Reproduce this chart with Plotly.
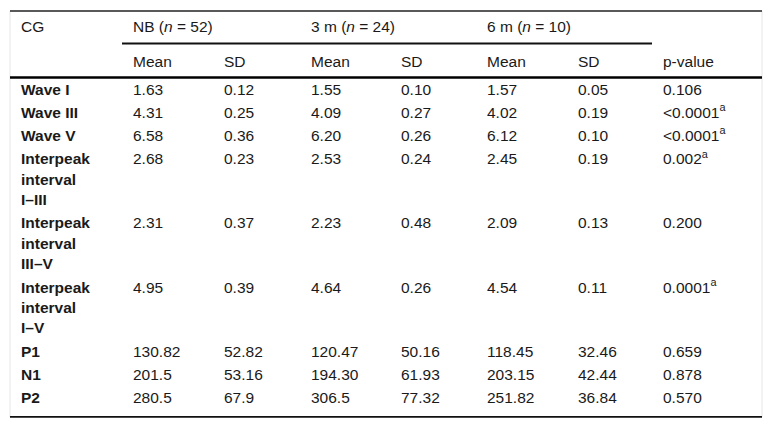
import plotly.graph_objects as go

# -------------------------------
# Dados da tabela
# -------------------------------
corner_label = "CG"
group_labels = ["NB (<i>n</i> = 52)", "3 m (<i>n</i> = 24)", "6 m (<i>n</i> = 10)"]
stat_labels = ["Mean", "SD"]
pvalue_label = "p-value"

row_labels = [
    "Wave I",
    "Wave III",
    "Wave V",
    "Interpeak<br>interval<br>I\u2013III",
    "Interpeak<br>interval<br>III\u2013V",
    "Interpeak<br>interval<br>I\u2013V",
    "P1",
    "N1",
    "P2",
]

nb_mean = ["1.63", "4.31", "6.58", "2.68", "2.31", "4.95", "130.82", "201.5", "280.5"]
nb_sd = ["0.12", "0.25", "0.36", "0.23", "0.37", "0.39", "52.82", "53.16", "67.9"]
m3_mean = ["1.55", "4.09", "6.20", "2.53", "2.23", "4.64", "120.47", "194.30", "306.5"]
m3_sd = ["0.10", "0.27", "0.26", "0.24", "0.48", "0.26", "50.16", "61.93", "77.32"]
m6_mean = ["1.57", "4.02", "6.12", "2.45", "2.09", "4.54", "118.45", "203.15", "251.82"]
m6_sd = ["0.05", "0.19", "0.10", "0.19", "0.13", "0.11", "32.46", "42.44", "36.84"]
p_values = ["0.106", "<0.0001", "<0.0001", "0.002", "0.200", "0.0001", "0.659", "0.878", "0.570"]
p_notes = ["", "a", "a", "a", "", "a", "", "", ""]

# -------------------------------
# Grade da tabela (em pixels da janela 773x428)
# -------------------------------
W, H = 773, 428
OFF = 8  # margem padrão do <body> da página
col_left = [10, 122, 213, 300, 390, 476, 567, 652, 762]
pad_x = 11
line_h = 20.45
pad_y = 1.4
y_top = 11
y_head1 = 28.5
y_group_rule = 43.5
y_head2 = 63
y_body = 77.5
text_dy = 1.5  # ajuste fino do centro vertical do texto

FONT = "Liberation Sans, Arial, sans-serif"
FSIZE = 15.5
TXT = "#1a1a1a"

text_x = [c + pad_x for c in col_left[:-1]]

# posições verticais de cada linha de texto
label_x, label_y, label_t = [], [], []
val_x, val_y, val_t = [], [], []
columns = [nb_mean, nb_sd, m3_mean, m3_sd, m6_mean, m6_sd]
y = y_body
for i, lab in enumerate(row_labels):
    parts = lab.split("<br>")
    first = y + pad_y + line_h / 2 + text_dy
    for k, part in enumerate(parts):
        label_x.append(text_x[0])
        label_y.append(first + k * line_h)
        label_t.append("<b>" + part + "</b>")
    for j, col in enumerate(columns):
        val_x.append(text_x[j + 1])
        val_y.append(first)
        val_t.append(col[i])
    p = p_values[i].replace("<", "&lt;")
    if p_notes[i]:
        p += "<sup>" + p_notes[i] + "</sup>"
    val_x.append(text_x[7])
    val_y.append(first)
    val_t.append(p)
    y += len(parts) * line_h + 2 * pad_y
y_bottom = y + 7.5

head_x = [text_x[0]] + [text_x[1 + 2 * g] for g in range(3)]
head_y = [y_head1] * 4
head_t = [corner_label] + group_labels
for g in range(3):
    for s, st in enumerate(stat_labels):
        head_x.append(text_x[1 + 2 * g + s])
        head_y.append(y_head2)
        head_t.append(st)
head_x.append(text_x[7])
head_y.append(y_head2)
head_t.append(pvalue_label)

fig = go.Figure()
for xs, ys, ts in [(head_x, head_y, head_t), (label_x, label_y, label_t), (val_x, val_y, val_t)]:
    fig.add_trace(go.Scatter(
        x=xs, y=ys, text=ts,
        mode="text",
        textposition="middle right",
        textfont=dict(family=FONT, size=FSIZE, color=TXT),
        hoverinfo="skip",
        showlegend=False,
    ))

# linhas laterais claras
for xv in (col_left[0], col_left[-1]):
    fig.add_shape(type="line", xref="x", yref="y", x0=xv, x1=xv, y0=y_top, y1=y_bottom,
                  line=dict(color="#e6e6e6", width=1))
# regras horizontais
fig.add_shape(type="line", xref="x", yref="y", x0=col_left[0], x1=col_left[-1], y0=y_top, y1=y_top,
              line=dict(color="#222222", width=1.3))
fig.add_shape(type="line", xref="x", yref="y", x0=col_left[1], x1=col_left[7], y0=y_group_rule, y1=y_group_rule,
              line=dict(color="#111111", width=1.8))
fig.add_shape(type="line", xref="x", yref="y", x0=col_left[0], x1=col_left[-1], y0=y_body, y1=y_body,
              line=dict(color="#000000", width=2.6))
fig.add_shape(type="line", xref="x", yref="y", x0=col_left[0], x1=col_left[-1], y0=y_bottom, y1=y_bottom,
              line=dict(color="#111111", width=1.8))

fig.update_layout(
    width=W, height=H,
    margin=dict(l=0, r=0, t=0, b=0),
    paper_bgcolor="white",
    plot_bgcolor="white",
    xaxis=dict(range=[OFF, W + OFF], visible=False, fixedrange=True),
    yaxis=dict(range=[H + OFF, OFF], visible=False, fixedrange=True),
    hovermode=False,
)

fig.write_html("out.html")
